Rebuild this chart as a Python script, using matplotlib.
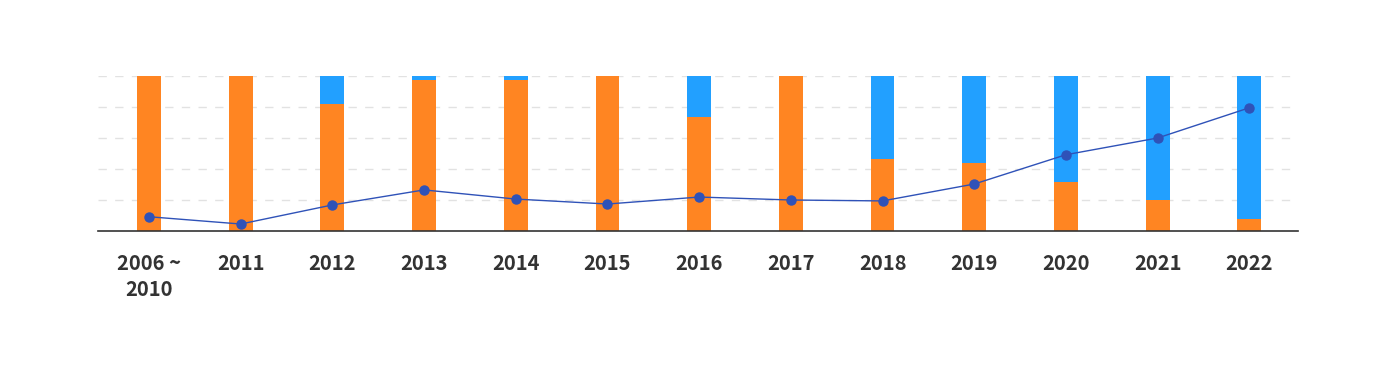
import numpy as np
import matplotlib.pyplot as plt

# data
years = ['2006 ~\n2010', '2011', '2012', '2013', '2014', '2015', '2016',
         '2017', '2018', '2019', '2020', '2021', '2022']
orange_share = [1.0, 1.0, 0.82, 0.974, 0.975, 1.0, 0.737, 1.0,
                0.465, 0.44, 0.316, 0.2, 0.077]
blue_share = [1 - v for v in orange_share]
line_vals = [0.092, 0.045, 0.168, 0.265, 0.206, 0.174, 0.219, 0.2,
             0.194, 0.303, 0.492, 0.6, 0.795]

ORANGE = '#FF8522'
BLUE = '#22A0FF'
LINE = '#2F52B8'

fig = plt.figure(figsize=(14, 3.68), dpi=100)
ax = fig.add_axes([0.07, 0.3723, 0.8571, 0.4212])

x = np.arange(len(years))
ax.bar(x, orange_share, width=0.26, color=ORANGE, zorder=2)
ax.bar(x, blue_share, width=0.26, bottom=orange_share, color=BLUE, zorder=2)
ax.plot(x, line_vals, color=LINE, lw=1, marker='o', markersize=6.5,
        markerfacecolor=LINE, markeredgecolor=LINE, zorder=3)

ax.set_ylim(0, 1)
ax.set_xlim(-0.556, 12.53)
ax.set_yticks([0.2, 0.4, 0.6, 0.8, 1.0])
ax.yaxis.grid(True, color='#e2e2e2', linestyle=(0, (6, 6)), lw=1, zorder=0)
ax.tick_params(axis='y', left=False, labelleft=False)
ax.tick_params(axis='x', length=0, pad=15.5)
ax.set_xticks(x)
ax.set_xticklabels(years, fontsize=14.5, fontweight='bold', color='#333333',
                   family=['Noto Sans CJK KR', 'DejaVu Sans'], linespacing=1.33)

for side in ['top', 'right', 'left']:
    ax.spines[side].set_visible(False)
ax.spines['bottom'].set_color('#333333')
ax.spines['bottom'].set_linewidth(1.2)
ax.spines['bottom'].set_zorder(4)

fig.savefig('out.png', dpi=100, facecolor='white')
